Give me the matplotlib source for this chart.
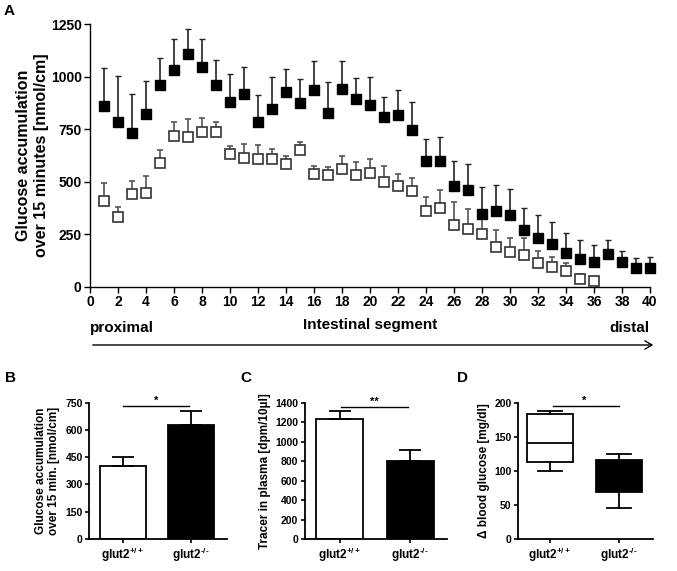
import matplotlib
matplotlib.use('Agg')
import matplotlib.pyplot as plt
import numpy as np

plt.rcParams['font.family'] = ['Liberation Sans', 'DejaVu Sans']
plt.rcParams['font.weight'] = 'bold'
plt.rcParams['mathtext.fontset'] = 'custom'
plt.rcParams['mathtext.rm'] = 'Liberation Sans:bold'
plt.rcParams['mathtext.bf'] = 'Liberation Sans:bold'
plt.rcParams['mathtext.default'] = 'rm'

# ---------------- data ----------------
ko_segments = list(range(1, 41))
ko_mean = [858, 786, 734, 820, 960, 1032, 1106, 1044, 962, 878, 916, 783, 845, 927, 875,
           937, 826, 940, 895, 865, 810, 818, 747, 598, 600, 478, 459, 346, 359, 343,
           269, 231, 203, 161, 134, 120, 155, 119, 92, 89]
ko_upper = [1040, 1003, 916, 981, 1090, 1180, 1225, 1180, 1079, 1011, 1047, 911, 1000, 1035, 989,
            1076, 976, 1074, 995, 1000, 903, 937, 881, 702, 715, 601, 585, 476, 484, 465,
            377, 342, 310, 259, 223, 198, 223, 171, 136, 142]

wt_segments = list(range(1, 37))
wt_mean = [407, 335, 441, 446, 589, 718, 715, 739, 736, 633, 615, 609, 608, 584, 652,
           536, 533, 560, 533, 544, 501, 481, 454, 362, 375, 294, 278, 250, 191, 166,
           152, 112, 95, 74, 38, 30]
wt_upper = [494, 378, 506, 528, 653, 786, 800, 802, 782, 671, 680, 674, 658, 625, 690,
            573, 571, 625, 593, 609, 577, 536, 520, 429, 459, 403, 369, 324, 269, 234,
            234, 169, 144, 114, 63, 36]

groups = ['glut2$^{+/+}$', 'glut2$^{\u2010/\u2010}$']
b_means = [402, 629]
b_upper = [449, 706]
c_means = [1232, 806]
c_upper = [1315, 911]
# box stats: whislo, q1, med, q3, whishi
d_wt = [100, 113, 141, 183, 188]
d_ko = [45, 69, 96, 116, 124]

W, H = 677, 571
fig = plt.figure(figsize=(W / 100, H / 100), dpi=100)

def fx(px):
    return px / W

def fy(py):
    return 1 - py / H

# ---------------- panel A ----------------
axA = fig.add_axes([fx(90), fy(287), fx(650) - fx(90), fy(24) - fy(287)])
wt_err = np.array(wt_upper) - np.array(wt_mean)
ko_err = np.array(ko_upper) - np.array(ko_mean)
axA.errorbar(wt_segments, wt_mean, yerr=[np.zeros_like(wt_err), wt_err], fmt='s',
             ms=7, mfc='white', mec='#333333', mew=1.2, ecolor='#555555', elinewidth=1.2,
             capsize=2.5, capthick=1.2, clip_on=False, zorder=3)
axA.errorbar(ko_segments, ko_mean, yerr=[np.zeros_like(ko_err), ko_err], fmt='s',
             ms=7, mfc='black', mec='black', mew=1.0, ecolor='#222222', elinewidth=1.2,
             capsize=2.5, capthick=1.2, clip_on=False, zorder=4)
axA.set_xlim(0, 40)
axA.set_ylim(0, 1250)
axA.set_xticks(range(0, 41, 2))
axA.set_yticks([0, 250, 500, 750, 1000, 1250])
axA.spines['top'].set_visible(False)
axA.spines['right'].set_visible(False)
for s in ['left', 'bottom']:
    axA.spines[s].set_linewidth(1.0)
axA.tick_params(direction='out', length=4, width=1.0, labelsize=10, pad=2)
for lab in axA.get_xticklabels() + axA.get_yticklabels():
    lab.set_fontweight('bold')
axA.set_ylabel('Glucose accumulation\nover 15 minutes [nmol/cm]', fontsize=11.5,
               fontweight='bold', linespacing=1.3, labelpad=1)

fig.text(fx(4), fy(11), 'A', fontsize=11, fontweight='bold', va='center', ha='left')
fig.text(fx(370), fy(325), 'Intestinal segment', fontsize=11, fontweight='bold',
         ha='center', va='center')
fig.text(fx(90), fy(328), 'proximal', fontsize=11, fontweight='bold', ha='left', va='center')
fig.text(fx(650), fy(328), 'distal', fontsize=11, fontweight='bold', ha='right', va='center')
fig.add_artist(matplotlib.patches.FancyArrowPatch(
    (fx(90), fy(345)), (fx(656), fy(345)), transform=fig.transFigure,
    arrowstyle='->,head_length=5,head_width=3', lw=1.0, color='black', mutation_scale=1))

# ---------------- bar panel helper ----------------
def style_small(ax):
    ax.spines['top'].set_visible(False)
    ax.spines['right'].set_visible(False)
    for s in ['left', 'bottom']:
        ax.spines[s].set_linewidth(1.3)
    ax.tick_params(direction='out', length=3, width=1.2, labelsize=7.5, pad=1.5)
    ax.tick_params(axis='x', labelsize=8.5, pad=2)
    for lab in ax.get_xticklabels() + ax.get_yticklabels():
        lab.set_fontweight('bold')

def bar_panel(ax, means, upper, ymax, yticks, sig_y, sig_x, star):
    x = np.arange(len(groups))
    err = np.array(upper) - np.array(means)
    ax.bar(x, means, width=0.67, color=['white', 'black'], edgecolor='black', linewidth=1.3,
           zorder=2)
    ax.errorbar(x, means, yerr=[np.zeros_like(err), err], fmt='none', ecolor='black',
                elinewidth=1.3, capsize=8, capthick=1.3, zorder=3)
    ax.set_xlim(-0.5, 1.52)
    ax.set_ylim(0, ymax)
    ax.set_yticks(yticks)
    ax.set_xticks(x)
    ax.set_xticklabels(groups)
    ax.plot(sig_x, [sig_y, sig_y], color='black', lw=1.0, clip_on=False)
    ax.text(np.mean(sig_x), sig_y, star, ha='center', va='bottom', fontsize=8, fontweight='bold')
    style_small(ax)

# ---------------- panel B ----------------
axB = fig.add_axes([fx(89), fy(539), fx(226.7) - fx(89), fy(402.7) - fy(539)])
bar_panel(axB, b_means, b_upper, 750, [0, 150, 300, 450, 600, 750], 732, [0.0, 0.97], '*')
axB.set_ylabel('Glucose accumulation\nover 15 min. [nmol/cm]', fontsize=8.5,
               fontweight='bold', linespacing=1.1, labelpad=4)
fig.text(fx(5), fy(378), 'B', fontsize=11, fontweight='bold', va='center', ha='left')

# ---------------- panel C ----------------
axC = fig.add_axes([fx(304.5), fy(539), fx(446.7) - fx(304.5), fy(402.7) - fy(539)])
bar_panel(axC, c_means, c_upper, 1400, [0, 200, 400, 600, 800, 1000, 1200, 1400], 1358,
          [0.02, 0.97], '**')
axC.set_ylabel('Tracer in plasma [dpm/10µl]', fontsize=8.5, fontweight='bold', labelpad=3)
fig.text(fx(240), fy(378), 'C', fontsize=11, fontweight='bold', va='center', ha='left')

# ---------------- panel D ----------------
axD = fig.add_axes([fx(517.7), fy(539), fx(653.3) - fx(517.7), fy(402.7) - fy(539)])
stats = []
for lab, d in zip(groups, [d_wt, d_ko]):
    stats.append({'whislo': d[0], 'q1': d[1], 'med': d[2], 'q3': d[3], 'whishi': d[4],
                  'label': lab})
bp = axD.bxp(stats, positions=[0, 1], widths=0.66, patch_artist=True, showfliers=False,
             boxprops=dict(linewidth=1.3, edgecolor='black'),
             whiskerprops=dict(linewidth=1.3, color='black'),
             capprops=dict(linewidth=1.3, color='black'),
             medianprops=dict(linewidth=1.3, color='black'))
bp['boxes'][0].set_facecolor('white')
bp['boxes'][1].set_facecolor('black')
for c in bp['caps']:
    xd = c.get_xdata()
    m = np.mean(xd)
    c.set_xdata([m - 0.17, m + 0.17])
axD.set_xlim(-0.47, 1.5)
axD.set_ylim(0, 200)
axD.set_yticks([0, 50, 100, 150, 200])
axD.set_xticks([0, 1])
axD.set_xticklabels(groups)
axD.plot([0.04, 1.0], [195, 195], color='black', lw=1.0, clip_on=False)
axD.text(0.5, 195, '*', ha='center', va='bottom', fontsize=8, fontweight='bold')
style_small(axD)
axD.set_ylabel('Δ blood glucose [mg/dl]', fontsize=8.5, fontweight='bold', labelpad=3)
fig.text(fx(457), fy(378), 'D', fontsize=11, fontweight='bold', va='center', ha='left')

fig.savefig('out.png', dpi=100)
